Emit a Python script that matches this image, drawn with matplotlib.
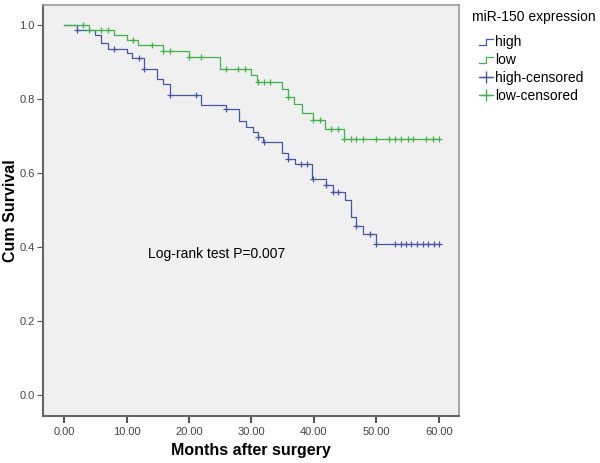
import matplotlib
matplotlib.use('Agg')
import matplotlib.pyplot as plt
import numpy as np
from matplotlib.lines import Line2D
from matplotlib.legend_handler import HandlerBase

plt.rcParams['font.family'] = ['Liberation Sans', 'DejaVu Sans']

# Kaplan-Meier steps (month, survival after the step)
high_times = [0, 2.0, 5.0, 5.9, 7.0, 10.0, 10.9, 12.85, 14.9, 15.9, 17.0, 21.9, 26.0, 28.0,
              29.1, 30.2, 31.0, 31.9, 34.9, 35.9, 37.0, 39.7, 42.0, 43.0, 45.0, 46.0, 46.8,
              47.9, 49.9, 60.0]
high_surv = [1.0, 0.987, 0.974, 0.951, 0.935, 0.924, 0.911, 0.882, 0.855, 0.841, 0.813, 0.786,
             0.773, 0.741, 0.726, 0.712, 0.699, 0.685, 0.654, 0.638, 0.625, 0.586, 0.568, 0.550,
             0.528, 0.481, 0.458, 0.436, 0.408, 0.408]
high_censored = [2.0, 8.0, 12.0, 12.85, 17.0, 21.1, 26.0, 31.0, 32.0, 35.9, 37.9, 38.9, 39.9,
                 42.0, 43.1, 43.9, 46.8, 49.0, 50.0, 53.0, 53.9, 54.8, 55.6, 56.5, 57.4, 58.3,
                 59.2, 60.0]

low_times = [0, 4.0, 8.05, 10.0, 11.9, 15.9, 20.0, 25.0, 30.0, 30.9, 34.9, 35.8, 36.8, 38.0,
             39.9, 41.8, 44.8, 60.0]
low_surv = [1.0, 0.987, 0.974, 0.960, 0.946, 0.931, 0.915, 0.881, 0.866, 0.847, 0.827, 0.807,
            0.787, 0.764, 0.744, 0.720, 0.692, 0.692]
low_censored = [3.0, 4.0, 5.9, 7.0, 11.0, 14.0, 15.9, 17.0, 20.0, 22.0, 26.0, 27.9, 29.0, 31.0,
                32.05, 33.0, 35.9, 39.9, 41.0, 42.8, 43.9, 44.8, 45.9, 46.8, 47.8, 50.0, 52.0,
                53.0, 53.9, 55.0, 55.9, 58.0, 59.0, 60.0]

x_ticks = [0, 10, 20, 30, 40, 50, 60]
y_ticks = [0.0, 0.2, 0.4, 0.6, 0.8, 1.0]

blue = '#4457A8'
green = '#3DB54A'


def surv_at(times, surv, t):
    idx = np.searchsorted(times, t, side='right') - 1
    return np.array(surv)[idx]


class StepHandler(HandlerBase):
    def create_artists(self, legend, orig_handle, xdescent, ydescent, width, height, fontsize, trans):
        x0, y0 = -xdescent, -ydescent
        xs = [x0, x0 + width * 0.45, x0 + width * 0.45, x0 + width]
        ys = [y0 + height * 0.1, y0 + height * 0.1, y0 + height * 0.75, y0 + height * 0.75]
        ln = Line2D(xs, ys, color=orig_handle.get_color(), lw=0.9)
        ln.set_transform(trans)
        return [ln]


fig = plt.figure(figsize=(6, 4.63), dpi=100)
ax = fig.add_axes([43 / 600, 1 - 416 / 463, 416 / 600, 411 / 463])
ax.set_facecolor('#F0F0F0')

ax.step(high_times, high_surv, where='post', color=blue, lw=0.9)
ax.step(low_times, low_surv, where='post', color=green, lw=0.9)
ax.plot(high_censored, surv_at(high_times, high_surv, high_censored), '+', color=blue, ms=5, mew=0.9)
ax.plot(low_censored, surv_at(low_times, low_surv, low_censored), '+', color=green, ms=5, mew=0.9)

ax.set_xlim(-3.36, 63.2)
ax.set_ylim(-0.056, 1.055)
ax.set_xticks(x_ticks)
ax.set_xticklabels([f'{t:.2f}' for t in x_ticks])
ax.set_yticks(y_ticks)
ax.set_yticklabels([f'{t:.1f}' for t in y_ticks])
ax.tick_params(axis='x', length=5, width=1.5, color='#555555', labelsize=8, labelcolor='#444444', pad=3)
ax.tick_params(axis='y', length=4, width=0.8, color='#555555', labelsize=8, labelcolor='#444444', pad=2)

for s in ['top', 'right']:
    ax.spines[s].set_color('#999999')
    ax.spines[s].set_linewidth(1.2)
for s in ['left', 'bottom']:
    ax.spines[s].set_color('#666666')
    ax.spines[s].set_linewidth(1.5)

ax.set_xlabel('Months after surgery', fontsize=11.5, fontweight='bold')
ax.set_ylabel('Cum Survival', fontsize=11.5, fontweight='bold')
ax.xaxis.set_label_coords(0.5, -0.065)
ax.yaxis.set_label_coords(-0.06, 0.5)

ax.text(13.4, 0.382, 'Log-rank test P=0.007', fontsize=10, va='center', ha='left')

fig.text(471.7 / 600, 1 - 16.5 / 463, 'miR-150 expression', fontsize=10, va='center', ha='left')
handles = [Line2D([], [], color=blue), Line2D([], [], color=green),
           Line2D([], [], color=blue, marker='+', ms=9, lw=0.9),
           Line2D([], [], color=green, marker='+', ms=9, lw=0.9)]
labels = ['high', 'low', 'high-censored', 'low-censored']
fig.legend(handles, labels, loc='upper left', bbox_to_anchor=(479.3 / 600, 1 - 35.2 / 463),
           frameon=False, fontsize=10, borderpad=0, borderaxespad=0, handlelength=1.0,
           handletextpad=0.15, labelspacing=0.28,
           handler_map={handles[0]: StepHandler(), handles[1]: StepHandler()})

fig.savefig('out.png', dpi=100)
